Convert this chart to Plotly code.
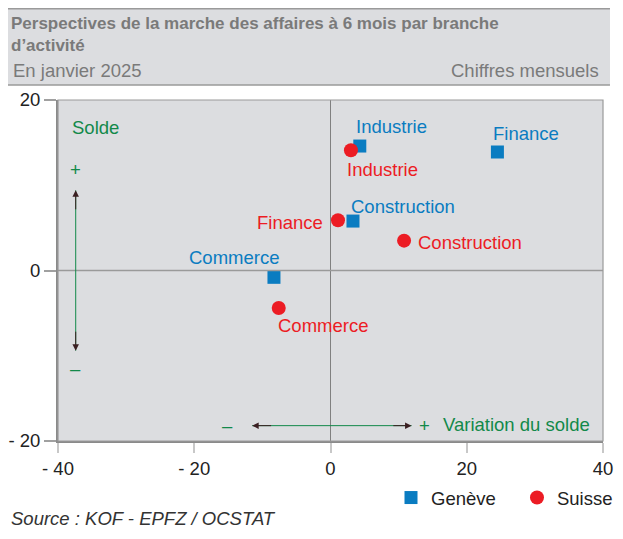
import plotly.graph_objects as go

# données
branches = ["Industrie", "Finance", "Construction", "Commerce"]
geneve_x = [4.3, 24.5, 3.3, -8.3]
geneve_y = [14.6, 13.9, 5.8, -0.8]
suisse_x = [3.0, 1.1, 10.8, -7.6]
suisse_y = [14.1, 5.9, 3.5, -4.4]

x_ticks = [-40, -20, 0, 20, 40]
x_ticklabels = ["- 40", "- 20", "0", "20", "40"]
y_ticks = [-20, 0, 20]
y_ticklabels = ["- 20", "0", "20"]

BLEU = "#0a7cc1"
ROUGE = "#ec1c24"
VERT = "#12894a"
GRIS = "#808080"
FONT = "Liberation Sans, Arial, sans-serif"
FS = 18.5

# placement des étiquettes (ancre, décalage x, décalage y en px)
geneve_lbl = [("left", -6, 20), ("left", -6, 19), ("left", -4, 15), ("right", 7, 20)]
suisse_lbl = [("left", -6, -19), ("right", -13, -2), ("left", 12, -2), ("left", -3, -17)]

fig = go.Figure()

fig.add_trace(go.Scatter(
    x=geneve_x, y=geneve_y, mode="markers", name="Genève",
    marker=dict(symbol="square", size=13, color=BLEU),
))
fig.add_trace(go.Scatter(
    x=suisse_x, y=suisse_y, mode="markers", name="Suisse",
    marker=dict(symbol="circle", size=14, color=ROUGE),
))

for xs, ys, lbls, col in [(geneve_x, geneve_y, geneve_lbl, BLEU), (suisse_x, suisse_y, suisse_lbl, ROUGE)]:
    for nom, x, y, (anc, dx, dy) in zip(branches, xs, ys, lbls):
        fig.add_annotation(x=x, y=y, text=nom, showarrow=False, xanchor=anc, yanchor="middle",
                           xshift=dx, yshift=dy, font=dict(color=col, size=FS, family=FONT))

# lignes zéro
fig.add_shape(type="line", x0=0, x1=0, y0=-20, y1=20, line=dict(color=GRIS, width=1))
fig.add_shape(type="line", x0=-40, x1=40, y0=0, y1=0, line=dict(color="#9a9a9a", width=1.5))

# flèches (solde / variation)
fig.add_shape(type="line", x0=-37.4, x1=-37.4, y0=-9.4, y1=9.4, line=dict(color=VERT, width=1))
fig.add_shape(type="line", x0=-11.5, x1=11.9, y0=-18.2, y1=-18.2, line=dict(color=VERT, width=1))
for (xa, ya, xh, yh) in [(-37.4, 7, -37.4, 9.4), (-37.4, -7, -37.4, -9.4),
                         (-8.5, -18.2, -11.5, -18.2), (9, -18.2, 11.9, -18.2)]:
    fig.add_annotation(x=xh, y=yh, ax=xa, ay=ya, xref="x", yref="y", axref="x", ayref="y",
                       text="", showarrow=True, arrowhead=2, arrowsize=1.3, arrowwidth=1,
                       arrowcolor="#3b1f22")

vert_font = dict(color=VERT, size=FS, family=FONT)
fig.add_annotation(x=-38.3, y=16.8, text="Solde", showarrow=False, xanchor="left", font=vert_font)
fig.add_annotation(x=-37.4, y=11.85, text="+", showarrow=False, font=vert_font)
fig.add_annotation(x=-37.4, y=-11.5, text="–", showarrow=False, font=vert_font)
fig.add_annotation(x=-15.1, y=-18.2, text="–", showarrow=False, font=vert_font)
fig.add_annotation(x=13.8, y=-18.2, text="+", showarrow=False, font=vert_font)
fig.add_annotation(x=16.2, y=-18.1, text="Variation du solde", showarrow=False,
                   xanchor="left", font=vert_font)

# bandeau de titre
fig.add_shape(type="rect", xref="paper", yref="paper", x0=-0.0972, x1=1.0128, y0=1.0443, y1=1.2703,
              fillcolor="#dcdde0", line=dict(width=0), layer="below")
fig.add_shape(type="line", xref="paper", yref="paper", x0=-0.0972, x1=1.0128, y0=1.2673, y1=1.2673,
              line=dict(color="#9a9a9a", width=1.5))
fig.add_shape(type="line", xref="paper", yref="paper", x0=-0.0972, x1=1.0128, y0=1.0443, y1=1.0443,
              line=dict(color="#9a9a9a", width=1.5))
fig.add_annotation(xref="paper", yref="paper", x=-0.089, y=1.2593, xanchor="left", yanchor="top",
                   align="left", showarrow=False,
                   text="<b>Perspectives de la marche des affaires à 6 mois par branche<br>d’activité</b>",
                   font=dict(size=17, color="#7a7a7a", family=FONT))
fig.add_annotation(xref="paper", yref="paper", x=-0.0859, y=1.0503, xanchor="left", yanchor="bottom",
                   showarrow=False, text="En janvier 2025",
                   font=dict(size=FS, color="#7a7a7a", family=FONT))
fig.add_annotation(xref="paper", yref="paper", x=0.9963, y=1.0503, xanchor="right", yanchor="bottom",
                   showarrow=False, text="Chiffres mensuels",
                   font=dict(size=FS, color="#7a7a7a", family=FONT))

fig.add_annotation(xref="paper", yref="paper", x=-0.0899, y=-0.2287, xanchor="left", yanchor="middle",
                   showarrow=False, text="<i>Source : KOF - EPFZ / OCSTAT</i>",
                   font=dict(size=FS, color="#333333", family=FONT))

fig.update_xaxes(range=[-40, 40], tickvals=x_ticks, ticktext=x_ticklabels, automargin=False,
                 showgrid=False, zeroline=False, ticks="outside", ticklen=10,
                 tickcolor="#c8c8c8", tickwidth=1.5,
                 showline=True, linecolor="#8a8a8a", linewidth=2, mirror=False,
                 tickfont=dict(size=FS, color="#222222"))
fig.update_yaxes(range=[-20, 20], tickvals=y_ticks, ticktext=y_ticklabels, automargin=False,
                 showgrid=False, zeroline=False, ticks="outside", ticklen=12,
                 tickcolor="#a0a0a0", tickwidth=1.5,
                 showline=True, linecolor="#8a8a8a", linewidth=2, mirror=False,
                 tickfont=dict(size=FS, color="#222222"))
# bords haut et droit
fig.add_shape(type="rect", xref="paper", yref="paper", x0=0, x1=1, y0=0, y1=1,
              line=dict(color="#9a9a9a", width=1.2))

# la page ajoute une marge de 8 px autour : figure réduite pour tenir dans la fenêtre
fig.update_layout(
    width=607, height=523,
    margin=dict(l=50, r=12, t=92, b=90, autoexpand=False),
    plot_bgcolor="#dcdde0", paper_bgcolor="white",
    font=dict(family=FONT, size=FS, color="#222222"),
    showlegend=True,
    legend=dict(orientation="h", x=0.611, xanchor="left", y=-0.1672, yanchor="middle",
                font=dict(size=FS, color="#222222"), entrywidth=81, entrywidthmode="pixels",
                bgcolor="rgba(0,0,0,0)", traceorder="normal"),
)

fig.write_html("out.html")
